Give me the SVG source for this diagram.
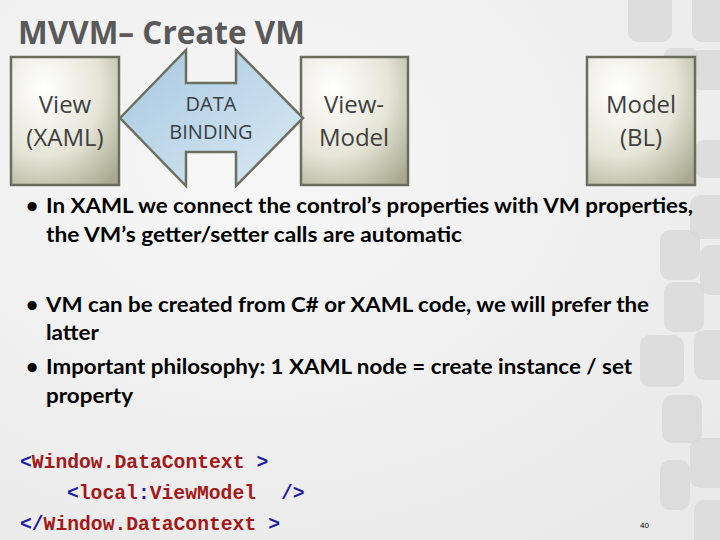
<svg xmlns="http://www.w3.org/2000/svg" width="720" height="540" viewBox="0 0 720 540">
  <defs>
    <radialGradient id="boxGrad" cx="0.3" cy="0.25" r="0.95">
      <stop offset="0" stop-color="#ffffff"/>
      <stop offset="0.55" stop-color="#e6e5d8"/>
      <stop offset="1" stop-color="#a9a88e"/>
    </radialGradient>
    <linearGradient id="arrowGrad" x1="0" y1="0" x2="1" y2="1">
      <stop offset="0" stop-color="#a6c8e1"/>
      <stop offset="1" stop-color="#dbe9f3"/>
    </linearGradient>
    <radialGradient id="bgGrad" cx="0.35" cy="0.3" r="0.9">
      <stop offset="0" stop-color="#f7f7f7"/>
      <stop offset="1" stop-color="#e9e9e9"/>
    </radialGradient>
  </defs>
  <style>
    .box { fill: url(#boxGrad); stroke: #6b6d5c; stroke-width: 2.5; }
    .boxText { font-family: "Open Sans", "Noto Sans", sans-serif; font-size: 24px; fill: #404040; text-anchor: middle; }
    .arrowText { font-family: "Open Sans", "Noto Sans", sans-serif; font-size: 20px; fill: #3a3f44; text-anchor: middle; }
    .title { font-family: "Open Sans", "Noto Sans", sans-serif; font-weight: bold; font-size: 32px; fill: #595959; }
    .bullet { font-family: "Lato", "Open Sans", sans-serif; font-weight: bold; font-size: 21px; fill: #000000; }
    .code { font-family: "Liberation Mono", "DejaVu Sans Mono", monospace; font-size: 19.7px; font-weight: bold; }
    .tag { fill: #1c1ca6; }
    .name { fill: #a31818; }
    .deco { fill: #d6d6d6; opacity: 0.7; }
  </style>

  <!-- background -->
  <rect x="0" y="0" width="720" height="540" fill="url(#bgGrad)"/>
  <g id="decoration">
    <rect class="deco" x="628" y="-10" width="44" height="52" rx="10"/>
    <rect class="deco" x="692" y="-10" width="40" height="52" rx="10"/>
    <rect class="deco" x="664" y="48" width="34" height="30" rx="8"/>
    <rect class="deco" x="690" y="50" width="40" height="40" rx="10"/>
    <rect class="deco" x="694" y="140" width="40" height="38" rx="10"/>
    <rect class="deco" x="690" y="195" width="40" height="44" rx="10"/>
    <rect class="deco" x="660" y="230" width="40" height="50" rx="10"/>
    <rect class="deco" x="700" y="245" width="30" height="50" rx="10"/>
    <rect class="deco" x="664" y="282" width="40" height="50" rx="10"/>
    <rect class="deco" x="640" y="335" width="44" height="52" rx="10"/>
    <rect class="deco" x="694" y="330" width="36" height="50" rx="10"/>
    <rect class="deco" x="662" y="395" width="40" height="48" rx="10"/>
    <rect class="deco" x="690" y="438" width="40" height="50" rx="10"/>
    <rect class="deco" x="660" y="460" width="30" height="50" rx="10"/>
    <rect class="deco" x="694" y="500" width="36" height="50" rx="10"/>
  </g>

  <!-- title -->
  <text class="title" x="18" y="44" textLength="287" lengthAdjust="spacingAndGlyphs">MVVM– Create VM</text>

  <!-- nodes -->
  <g id="view">
    <rect class="box" x="11" y="57" width="108" height="128"/>
    <text class="boxText" x="65" y="113">View</text>
    <text class="boxText" x="65" y="146">(XAML)</text>
  </g>

  <g id="viewmodel">
    <rect class="box" x="301" y="57" width="107" height="128"/>
    <text class="boxText" x="354" y="113">View-</text>
    <text class="boxText" x="354" y="146">Model</text>
  </g>

  <g id="model">
    <rect class="box" x="587" y="57" width="108" height="128"/>
    <text class="boxText" x="641" y="113">Model</text>
    <text class="boxText" x="641" y="146">(BL)</text>
  </g>

  <!-- connectors -->
  <g id="connectors">
    <g id="databinding">
      <polygon points="120,118 186,50 186,83 236,83 236,50 303,118 236,186 236,152 186,152 186,186" fill="url(#arrowGrad)" stroke="#6b6f60" stroke-width="2.5" stroke-linejoin="miter"/>
      <text class="arrowText" x="211" y="111">DATA</text>
      <text class="arrowText" x="211" y="139">BINDING</text>
    </g>
  </g>

  <!-- bullets -->
  <g id="bullets">
    <text class="bullet" x="26" y="213">•</text>
    <text class="bullet" x="46" y="213" textLength="647" lengthAdjust="spacingAndGlyphs">In XAML we connect the control’s properties with VM properties,</text>
    <text class="bullet" x="46" y="242" textLength="416" lengthAdjust="spacingAndGlyphs">the VM’s getter/setter calls are automatic</text>
    <text class="bullet" x="26" y="312">•</text>
    <text class="bullet" x="46" y="312" textLength="603" lengthAdjust="spacingAndGlyphs">VM can be created from C# or XAML code, we will prefer the</text>
    <text class="bullet" x="46" y="340" textLength="53" lengthAdjust="spacingAndGlyphs">latter</text>
    <text class="bullet" x="26" y="374">•</text>
    <text class="bullet" x="46" y="374" textLength="586" lengthAdjust="spacingAndGlyphs">Important philosophy: 1 XAML node = create instance / set</text>
    <text class="bullet" x="46" y="403" textLength="87" lengthAdjust="spacingAndGlyphs">property</text>
  </g>

  <!-- code -->
  <g id="code">
    <text class="code tag" x="20" y="468">&lt;</text>
    <text class="code name" x="31.8" y="468">Window.DataContext</text>
    <text class="code tag" x="256.4" y="468">&gt;</text>

    <text class="code tag" x="67" y="499">&lt;</text>
    <text class="code name" x="78.8" y="499">local</text>
    <text class="code tag" x="137.9" y="499">:</text>
    <text class="code name" x="149.7" y="499">ViewModel</text>
    <text class="code tag" x="281" y="499">/&gt;</text>

    <text class="code tag" x="20" y="530">&lt;/</text>
    <text class="code name" x="43.6" y="530">Window.DataContext</text>
    <text class="code tag" x="268.2" y="530">&gt;</text>
  </g>

  <text x="640" y="528" font-family="Liberation Sans, sans-serif" font-size="8" fill="#000000">40</text>
</svg>
